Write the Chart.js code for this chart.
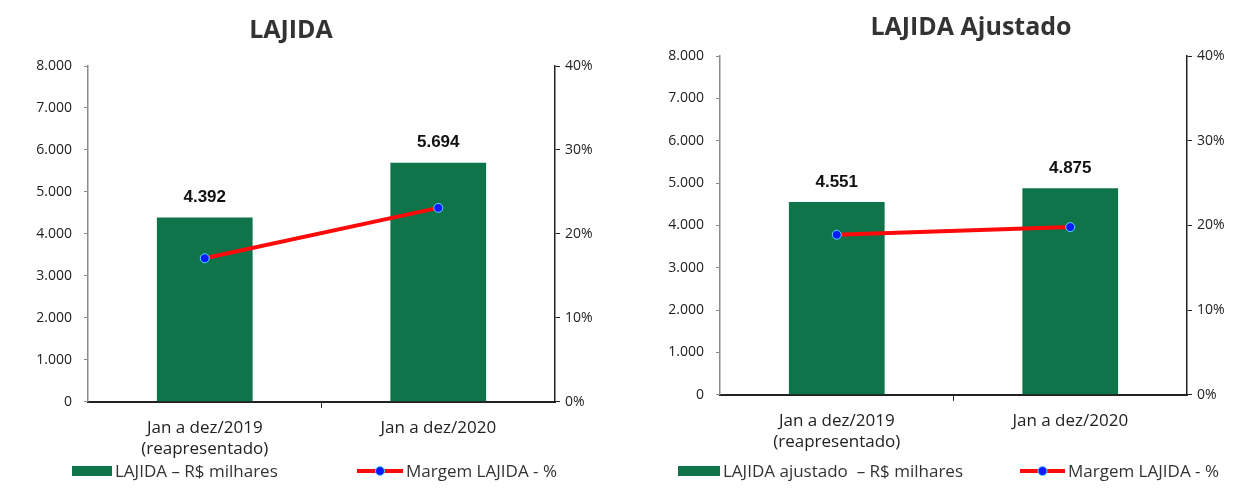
<!DOCTYPE html>
<html>
<head>
<meta charset="utf-8">
<script src="https://cdn.jsdelivr.net/npm/chart.js@4.4.1/dist/chart.umd.min.js"></script>
<style>
  html, body { margin: 0; padding: 0; background: #fff; }
  #wrap { position: relative; width: 1240px; height: 495px; }
  .box { position: absolute; top: 0; height: 495px; }
  #boxA { left: 0; width: 620px; }
  #boxB { left: 620px; width: 620px; }
</style>
</head>
<body>
<div id="wrap">
  <div class="box" id="boxA"><canvas id="graficoLajida"></canvas></div>
  <div class="box" id="boxB"><canvas id="graficoAjustado"></canvas></div>
</div>
<script>
// ================== DADOS ==================
const categorias = [["Jan a dez/2019", "(reapresentado)"], "Jan a dez/2020"];

// LAJIDA (R$ milhares) e margem (%)
const lajida = [4392, 5694];
const margemLajida = [17.1, 23.1];

// LAJIDA ajustado (R$ milhares) e margem (%)
const lajidaAjustado = [4551, 4875];
const margemAjustada = [18.9, 19.8];

// eixos
const eixoValores = { min: 0, max: 8000, passo: 1000 };
const eixoMargem = { min: 0, max: 40, passo: 10 };

// ================== ESTILO ==================
const VERDE = "#10744a";
const VERMELHO = "#ff0a0a";
const AZUL = "#0a1cff";
const FONTE = "'Open Sans', 'Liberation Sans', sans-serif";

// formato 8.000
const fmtMil = v => Math.round(v).toString().replace(/\B(?=(\d{3})+(?!\d))/g, ".");

// título (desenhado fora do centro, como no original)
const tituloManual = {
  id: "tituloManual",
  afterDraw(chart, args, opts) {
    const { ctx } = chart;
    ctx.save();
    ctx.font = "bold 25px " + FONTE;
    ctx.fillStyle = "#333";
    ctx.textAlign = "center";
    ctx.textBaseline = "middle";
    ctx.fillText(opts.texto, opts.x, opts.y);
    ctx.restore();
  }
};

// rótulos acima das barras
const rotulosBarras = {
  id: "rotulosBarras",
  afterDatasetsDraw(chart) {
    const { ctx } = chart;
    chart.data.datasets.forEach((ds, di) => {
      if (ds.type !== "bar") return;
      const meta = chart.getDatasetMeta(di);
      ctx.save();
      ctx.font = "bold 17px 'Liberation Sans', Arial, sans-serif";
      ctx.fillStyle = "#111";
      ctx.textAlign = "center";
      ctx.textBaseline = "middle";
      meta.data.forEach((bar, i) => {
        ctx.fillText(fmtMil(ds.data[i]), bar.x, bar.y - 20);
      });
      ctx.restore();
    });
  }
};

// legenda desenhada à mão (barra verde + linha vermelha com ponto azul)
const legendaManual = {
  id: "legendaManual",
  afterDraw(chart, args, opts) {
    const { ctx } = chart;
    const y = opts.y;
    ctx.save();
    ctx.font = "17px " + FONTE;
    ctx.textBaseline = "middle";
    chart.data.datasets.forEach(ds => {
      const pos = ds.type === "bar" ? opts.barra : opts.linha;
      if (ds.type === "bar") {
        ctx.fillStyle = ds.backgroundColor;
        ctx.fillRect(pos.x, y - 5, pos.w, 10);
      } else {
        ctx.fillStyle = ds.borderColor;
        ctx.fillRect(pos.x, y - 2, pos.w, 4);
        ctx.beginPath();
        ctx.arc(pos.x + pos.w / 2, y, 4.5, 0, Math.PI * 2);
        ctx.fillStyle = ds.pointBackgroundColor;
        ctx.fill();
        ctx.lineWidth = 1;
        ctx.strokeStyle = ds.pointBorderColor;
        ctx.stroke();
      }
      ctx.fillStyle = "#333";
      ctx.fillText(ds.label, pos.x + pos.w + 3, y + 1);
    });
    ctx.restore();
  }
};

function criarGrafico(id, cfg) {
  return new Chart(document.getElementById(id), {
    data: {
      labels: categorias,
      datasets: [
        {
          type: "line",
          label: "Margem LAJIDA - %",
          data: cfg.margem,
          yAxisID: "y2",
          borderColor: VERMELHO,
          borderWidth: 4,
          pointRadius: 4.5,
          pointBackgroundColor: AZUL,
          pointBorderColor: "#55d6ff",
          pointBorderWidth: 1,
          order: 0
        },
        {
          type: "bar",
          label: cfg.rotulo,
          data: cfg.valores,
          yAxisID: "y",
          backgroundColor: VERDE,
          barPercentage: 0.41,
          categoryPercentage: 1,
          order: 1
        }
      ]
    },
    options: {
      responsive: true,
      maintainAspectRatio: false,
      animation: false,
      layout: { padding: cfg.padding },
      plugins: {
        title: { display: false },
        legend: { display: false },
        tituloManual: cfg.titulo,
        legendaManual: cfg.legenda,
        tooltip: { enabled: false }
      },
      scales: {
        x: {
          offset: true,
          border: { color: "#222", width: 2 },
          grid: {
            offset: true,
            drawOnChartArea: false,
            tickLength: 6,
            color: c => (c.index === 1 ? "#222" : "transparent")
          },
          ticks: {
            color: "#222",
            font: { family: FONTE, size: 17, lineHeight: 1.24 },
            padding: 10,
            maxRotation: 0
          }
        },
        y: {
          position: "left",
          min: eixoValores.min,
          max: eixoValores.max,
          border: { color: "#8a8a8a", width: 1.5 },
          grid: { drawOnChartArea: false, tickLength: 4, color: "#8a8a8a" },
          ticks: {
            stepSize: eixoValores.passo,
            color: "#222",
            padding: 12,
            font: { family: FONTE, size: 14 },
            callback: v => fmtMil(v)
          },
          afterFit: s => { s.width = cfg.larguraY; }
        },
        y2: {
          position: "right",
          min: eixoMargem.min,
          max: eixoMargem.max,
          border: { color: "#222", width: 1.5 },
          grid: { drawOnChartArea: false, tickLength: 5, color: "#222" },
          ticks: {
            stepSize: eixoMargem.passo,
            color: "#222",
            padding: 5,
            font: { family: FONTE, size: 14 },
            callback: v => v + "%"
          },
          afterFit: s => { s.width = cfg.larguraY2; }
        }
      }
    },
    plugins: [rotulosBarras, tituloManual, legendaManual]
  });
}

criarGrafico("graficoLajida", {
  titulo: { texto: "LAJIDA", x: 291, y: 31 },
  rotulo: "LAJIDA \u2013 R$ milhares",
  valores: lajida,
  margem: margemLajida,
  larguraY: 68,
  larguraY2: 45,
  padding: { left: 20, right: 20, top: 66, bottom: 25 },
  legenda: { y: 471, barra: { x: 72, w: 40 }, linha: { x: 357, w: 46 } }
});

criarGrafico("graficoAjustado", {
  titulo: { texto: "LAJIDA Ajustado", x: 351, y: 28 },
  rotulo: "LAJIDA ajustado  \u2013 R$ milhares",
  valores: lajidaAjustado,
  margem: margemAjustada,
  larguraY: 70,
  larguraY2: 43,
  padding: { left: 30, right: 10, top: 56, bottom: 32 },
  legenda: { y: 471, barra: { x: 58, w: 42 }, linha: { x: 400, w: 45 } }
});
</script>
</body>
</html>
